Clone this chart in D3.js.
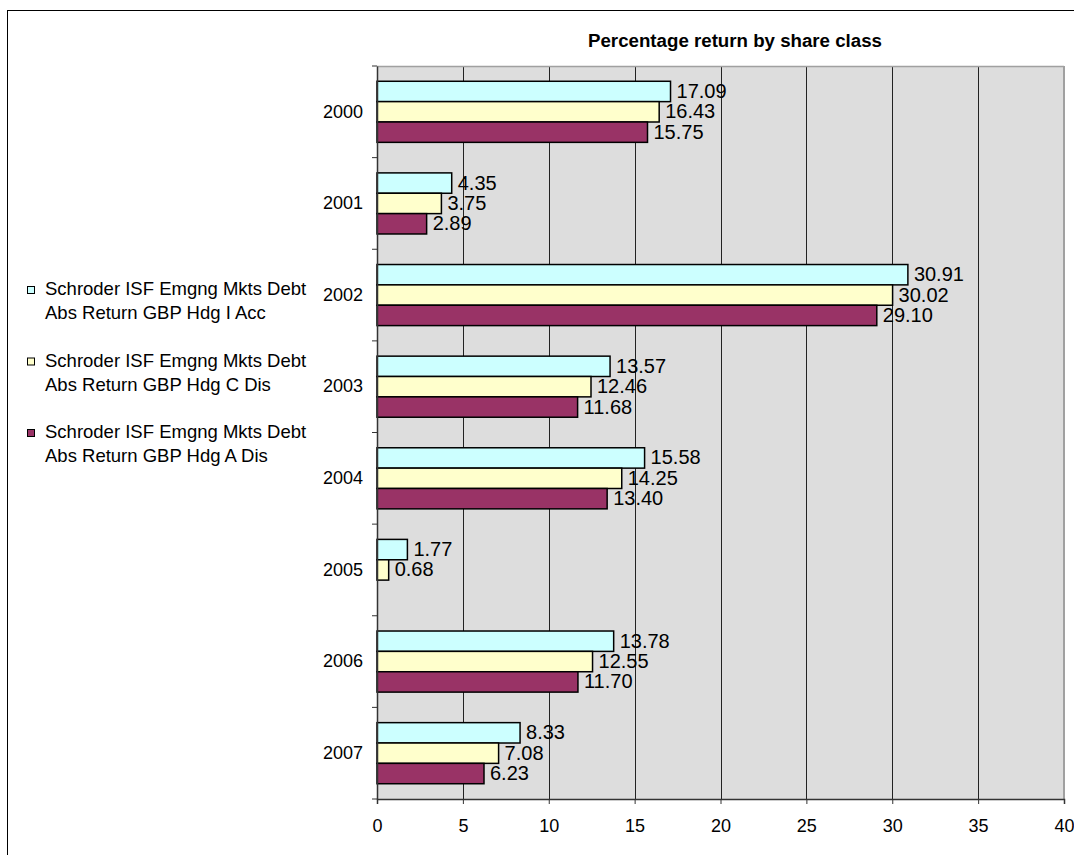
<!DOCTYPE html>
<html>
<head>
<meta charset="utf-8">
<script src="https://cdn.jsdelivr.net/npm/d3@7"></script>
<style>
  html, body { margin: 0; padding: 0; background: #fff; }
  svg { display: block; }
  text { font-family: "Liberation Sans", Arial, sans-serif; fill: #000; }
</style>
</head>
<body>
<svg id="chart" width="1074" height="855"></svg>
<script>
const title = "Percentage return by share class";
const categories = ["2000", "2001", "2002", "2003", "2004", "2005", "2006", "2007"];
const seriesNames = [
  ["Schroder ISF Emgng Mkts Debt", "Abs Return GBP Hdg I Acc"],
  ["Schroder ISF Emgng Mkts Debt", "Abs Return GBP Hdg C Dis"],
  ["Schroder ISF Emgng Mkts Debt", "Abs Return GBP Hdg A Dis"]
];
const seriesColors = ["#CCFFFF", "#FFFFCC", "#993366"];
const iAcc = [17.09, 4.35, 30.91, 13.57, 15.58, 1.77, 13.78, 8.33];
const cDis = [16.43, 3.75, 30.02, 12.46, 14.25, 0.68, 12.55, 7.08];
const aDis = [15.75, 2.89, 29.10, 11.68, 13.40, null, 11.70, 6.23];
const xTicks = [0, 5, 10, 15, 20, 25, 30, 35, 40];

const seriesValues = [iAcc, cDis, aDis];
const svg = d3.select("#chart");

const plot = { left: 377, right: 1064, top: 66, bottom: 799 };

const x = d3.scaleLinear().domain([0, 40]).range([plot.left, plot.right]);
const y = d3.scaleBand().domain(categories).range([plot.top, plot.bottom]).padding(0);
const bw = y.bandwidth();
const gap = bw / 6;
const y1 = d3.scaleBand().domain([0, 1, 2]).range([gap, bw - gap]).padding(0);

// outer frame
svg.append("rect")
  .attr("x", 7.5).attr("y", 10.5)
  .attr("width", 1100).attr("height", 900)
  .attr("fill", "none").attr("stroke", "#000").attr("stroke-width", 1);

// plot background
svg.append("rect")
  .attr("x", plot.left).attr("y", plot.top)
  .attr("width", plot.right - plot.left).attr("height", plot.bottom - plot.top)
  .attr("fill", "#DDDDDD");

// gridlines
svg.append("g").selectAll("line")
  .data(xTicks.filter(d => d > 0 && d < 40))
  .join("line")
  .attr("x1", d => Math.round(x(d)) + 0.5).attr("x2", d => Math.round(x(d)) + 0.5)
  .attr("y1", plot.top).attr("y2", plot.bottom)
  .attr("stroke", "#222").attr("stroke-width", 1);

// plot border (top/right gray)
svg.append("line")
  .attr("x1", plot.left).attr("x2", plot.right)
  .attr("y1", plot.top + 0.5).attr("y2", plot.top + 0.5)
  .attr("stroke", "#A0A0A0").attr("stroke-width", 1.5);
svg.append("line")
  .attr("x1", plot.right).attr("x2", plot.right)
  .attr("y1", plot.top).attr("y2", plot.bottom)
  .attr("stroke", "#A0A0A0").attr("stroke-width", 2);

// bars
const groups = svg.append("g").selectAll("g")
  .data(categories)
  .join("g")
  .attr("transform", d => `translate(0,${y(d)})`);

groups.each(function(cat, ci) {
  const g = d3.select(this);
  seriesValues.forEach((vals, si) => {
    const v = vals[ci];
    if (v == null) return;
    g.append("rect")
      .attr("x", x(0))
      .attr("y", y1(si))
      .attr("width", x(v) - x(0))
      .attr("height", y1.bandwidth())
      .attr("fill", seriesColors[si])
      .attr("stroke", "#000")
      .attr("stroke-width", 1.5);
    g.append("text")
      .attr("x", x(v) + 6)
      .attr("y", y1(si) + y1.bandwidth() / 2 + 6.5)
      .attr("font-size", 20)
      .text(v.toFixed(2));
  });
});

// x axis
const xAxis = d3.axisBottom(x).tickValues(xTicks).tickSize(5).tickPadding(15).tickFormat(d3.format("d"));
const gx = svg.append("g").attr("transform", `translate(0,${plot.bottom})`).call(xAxis);
gx.select(".domain").attr("stroke", "#333").attr("stroke-width", 1.5);
gx.selectAll(".tick line").attr("stroke", "#333");
gx.selectAll(".tick text").attr("font-size", 18).attr("font-family", "Liberation Sans, Arial, sans-serif").attr("fill", "#000");

// y axis
const yAxis = d3.axisLeft(y).tickSize(0).tickPadding(14);
const gy = svg.append("g").attr("transform", `translate(${plot.left},0)`).call(yAxis);
gy.select(".domain").attr("stroke", "#333").attr("stroke-width", 1.5);
gy.selectAll(".tick text").attr("font-size", 18).attr("font-family", "Liberation Sans, Arial, sans-serif").attr("fill", "#000");
// category boundary ticks
svg.append("g").selectAll("line")
  .data(d3.range(categories.length + 1))
  .join("line")
  .attr("x1", plot.left - 5).attr("x2", plot.left)
  .attr("y1", i => plot.top + i * bw).attr("y2", i => plot.top + i * bw)
  .attr("stroke", "#333").attr("stroke-width", 1);

// title
svg.append("text")
  .attr("x", 735).attr("y", 47)
  .attr("text-anchor", "middle")
  .attr("font-size", 18.7)
  .attr("font-weight", "bold")
  .text(title);

// legend
const legend = svg.append("g");
seriesNames.forEach((lines, i) => {
  const by = 295 + i * 71.5;
  legend.append("rect")
    .attr("x", 27.5).attr("y", by - 8.5)
    .attr("width", 7).attr("height", 7)
    .attr("fill", seriesColors[i]).attr("stroke", "#000").attr("stroke-width", 1);
  lines.forEach((t, li) => {
    legend.append("text")
      .attr("x", 45).attr("y", by + li * 24)
      .attr("font-size", 18.5)
      .text(t);
  });
});
</script>
</body>
</html>
